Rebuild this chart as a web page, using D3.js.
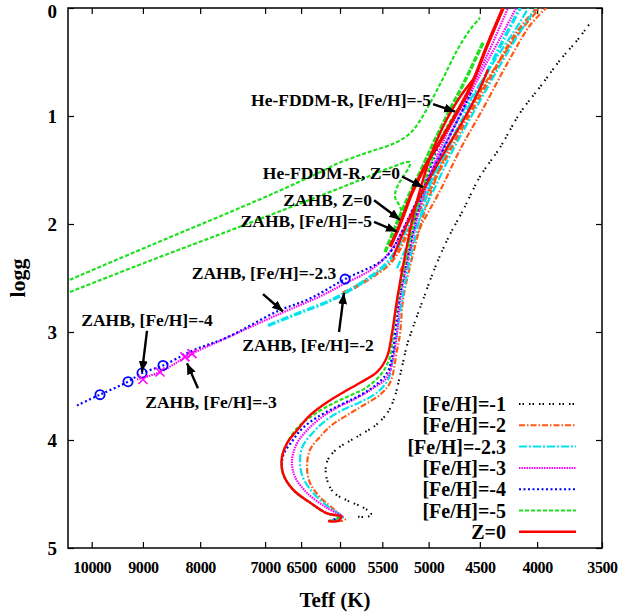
<!DOCTYPE html>
<html>
<head>
<meta charset="utf-8">
<script src="https://cdn.jsdelivr.net/npm/d3@7"></script>
<style>
  body { margin: 0; background: #fff; }
  text { font-family: "Liberation Serif", "Times New Roman", serif; font-weight: bold; fill: #000; }
</style>
</head>
<body>
<svg id="chart" width="634" height="616"></svg>
<script>
// ---- axis ticks ----
const teffTicks = [10000, 9000, 8000, 7000, 6500, 6000, 5500, 5000, 4500, 4000, 3500];
const loggTicks = [0, 1, 2, 3, 4, 5];

// ---- series: [Teff (K), logg] ----
// [Fe/H]=-1
const fehM1Track = [[5781,4.71],[5663,4.71],[5628,4.68],[5733,4.62],[5913,4.56],[6087,4.48],[6174,4.33],[6162,4.20],[6049,4.09],[5793,3.97],[5572,3.86],[5435,3.74],[5358,3.59],[5313,3.44],[5270,3.28],[5227,3.12],[5173,2.98],[5120,2.85],[5057,2.70],[4955,2.45],[4814,2.15],[4657,1.87],[4498,1.56],[4316,1.29],[4142,0.97],[3975,0.73],[3814,0.48],[3684,0.30],[3587,0.14]];

// [Fe/H]=-2
const fehM2Rgb = [[6037,4.75],[5938,4.74],[6062,4.65],[6251,4.53],[6381,4.40],[6421,4.25],[6381,4.09],[6251,3.97],[6099,3.86],[5913,3.77],[5722,3.68],[5525,3.58],[5413,3.47],[5336,3.17],[5302,3.01],[5270,2.70],[5152,2.24],[5005,1.78],[4764,1.22],[4544,0.85],[4316,0.48],[4100,0.16],[3975,0]];
const fehM2Hb1 = [[5963,2.64],[5805,2.58],[5617,2.49],[5435,2.38],[5325,2.26],[5216,2.07],[5068,1.82],[4863,1.45],[4638,1.06],[4406,0.65],[4185,0.25],[4000,0]];
const fehM2Hb2 = [[5302,2.44],[5194,2.24],[5057,1.98],[4883,1.69],[4686,1.31],[4470,0.93],[4246,0.50],[4058,0.16],[3926,0]];

// [Fe/H]=-2.3
const fehM23Rgb = [[6087,4.75],[5963,4.72],[6124,4.63],[6342,4.49],[6480,4.34],[6514,4.21],[6480,4.06],[6342,3.93],[6162,3.81],[5963,3.72],[5757,3.65],[5559,3.56],[5435,3.44],[5380,3.23],[5336,3.01],[5281,2.70],[5173,2.24],[5036,1.78],[4814,1.22],[4591,0.85],[4361,0.48],[4142,0.13],[4075,0]];
const fehM23Hb1 = [[6958,2.94],[6514,2.82],[6124,2.71],[5877,2.61],[5640,2.49],[5469,2.38],[5358,2.26],[5248,2.07],[5088,1.80],[4883,1.43],[4667,1.04],[4470,0.67],[4290,0.30],[4142,0]];
const fehM23Hb2 = [[5336,2.41],[5237,2.22],[5109,1.98],[4955,1.70],[4764,1.33],[4544,0.94],[4316,0.53],[4142,0.22],[4008,0]];

// [Fe/H]=-3
const fehM3Rgb = [[6124,4.75],[5975,4.71],[6162,4.63],[6421,4.49],[6582,4.34],[6623,4.19],[6555,4.03],[6421,3.91],[6251,3.80],[6037,3.70],[5793,3.61],[5605,3.52],[5447,3.42],[5391,3.29],[5336,3.01],[5302,2.70],[5194,2.24],[5068,1.78],[4843,1.22],[4638,0.85],[4434,0.44],[4246,0]];
const fehM3Hb = [[9111,3.44],[8689,3.37],[8170,3.21],[7524,3.04],[6788,2.83],[6251,2.67],[5938,2.55],[5640,2.43],[5469,2.31],[5358,2.19],[5248,2.01],[5088,1.73],[4883,1.36],[4686,0.99],[4498,0.62],[4316,0.28],[4176,0]];
const fehM3Marks = [[8999,3.44],[8689,3.37],[8254,3.23],[8136,3.20]];

// [Fe/H]=-4
const fehM4Rgb = [[6137,4.75],[5999,4.71],[6162,4.68],[6381,4.58],[6609,4.46],[6747,4.31],[6747,4.15],[6609,4.00],[6480,3.89],[6290,3.79],[6037,3.69],[5793,3.60],[5605,3.51],[5447,3.38],[5391,3.23],[5358,3.01],[5313,2.70],[5205,2.24],[5088,1.78],[4873,1.22],[4735,0.99]];
const fehM4Hb = [[10308,3.68],[9831,3.58],[9280,3.46],[9017,3.38],[8636,3.31],[8119,3.17],[7570,3.05],[6830,2.81],[6381,2.69],[5938,2.51],[5525,2.35],[5391,2.24],[5281,2.07],[5141,1.82],[4985,1.55],[4784,1.18],[4572,0.76]];
const fehM4Marks = [[9831,3.58],[9280,3.46],[9017,3.38],[8636,3.31],[5938,2.51]];

// [Fe/H]=-5
const fehM5Rgb = [[6124,4.75],[5999,4.71],[6162,4.68],[6381,4.58],[6609,4.46],[6747,4.31],[6761,4.16],[6691,4.03],[6555,3.89],[6381,3.79],[6162,3.69],[5913,3.60],[5675,3.51],[5503,3.38],[5413,3.23],[5380,3.01],[5325,2.70],[5216,2.24],[5099,1.78],[4883,1.22],[4686,0.90],[4572,0.71]];
const fehM5Hb = [[5469,2.26],[5391,2.10],[5302,1.92],[5194,1.71],[5088,1.52],[4934,1.22],[4784,0.94],[4638,0.67],[4470,0.32]];
const fehM5FddmUpper = [[10700,2.56],[8870,2.20],[7524,1.89],[6788,1.69],[6251,1.52],[5999,1.43],[5640,1.33],[5358,1.25],[5194,1.16],[5088,1.04],[4985,0.88],[4853,0.65],[4715,0.39],[4591,0.20],[4498,0.09]];
const fehM5FddmLower = [[10700,2.67],[8870,2.34],[7524,2.06],[6514,1.81],[5877,1.63],[5413,1.48],[5194,1.43],[5336,1.66],[5358,1.75],[5302,1.84],[5270,1.94]];

// Z=0
const zeroRgb = [[6149,4.75],[6024,4.75],[5987,4.71],[6162,4.68],[6381,4.58],[6609,4.46],[6747,4.31],[6761,4.16],[6691,4.03],[6555,3.91],[6381,3.77],[6162,3.65],[5963,3.56],[5757,3.47],[5559,3.37],[5447,3.23],[5391,3.01],[5336,2.70],[5237,2.24],[5120,1.78],[4914,1.22],[4706,0.85],[4544,0.64]];
const zeroHb1 = [[5413,2.21],[5336,2.07],[5270,1.93],[5173,1.71],[5026,1.45],[4873,1.22],[4725,0.98],[4582,0.72],[4434,0.35],[4290,0]];
const zeroHb2 = [[5380,2.31],[5302,2.15],[5216,1.98],[5109,1.78],[4985,1.57],[4824,1.31],[4667,1.06],[4516,0.78],[4424,0.57]];

// ---- legend / styling per series ----
const seriesNames = ["[Fe/H]=-1", "[Fe/H]=-2", "[Fe/H]=-2.3", "[Fe/H]=-3", "[Fe/H]=-4", "[Fe/H]=-5", "Z=0"];
const seriesColors = ["#000000", "#ff5a14", "#00e4ee", "#ff00ff", "#0000ff", "#1ee11e", "#ff0000"];
const seriesDash = ["1.5,2,1.5,5", "6,2,1.5,2", "8,2,2,2", "1.5,1", "2,2.5", "4,2", null];
const seriesTracks = [
  [fehM1Track],
  [fehM2Rgb, fehM2Hb1, fehM2Hb2],
  [fehM23Rgb, fehM23Hb1, fehM23Hb2],
  [fehM3Rgb, fehM3Hb],
  [fehM4Rgb, fehM4Hb],
  [fehM5Rgb, fehM5Hb, fehM5FddmUpper, fehM5FddmLower],
  [zeroRgb, zeroHb1, zeroHb2]
];
// tracks drawn as dense, heavy bands
const heavyTracks = new Set([fehM5Hb, fehM23Hb1, fehM2Hb1, zeroHb1]);

// ---- annotations ----
const noteLabels = ["He-FDDM-R, [Fe/H]=-5", "He-FDDM-R, Z=0", "ZAHB, Z=0", "ZAHB, [Fe/H]=-5",
                    "ZAHB, [Fe/H]=-2.3", "ZAHB, [Fe/H]=-4", "ZAHB, [Fe/H]=-2", "ZAHB, [Fe/H]=-3"];
const noteAnchor = ["end", "end", "end", "end", "middle", "middle", "middle", "middle"];
const noteAt = [[4975,0.85],[5302,1.53],[5617,1.78],[5617,1.97],[7015,2.45],[8925,2.89],[6407,3.12],[7824,3.65]];
const arrowFrom = [[4955,0.89],[5281,1.56],[5594,1.78],[5594,1.98],[7030,2.65],[8925,2.99],[6012,3.00],[8037,3.52]];
const arrowTo = [[4735,0.96],[5057,1.66],[5302,1.96],[5336,2.07],[6747,2.81],[9017,3.37],[5951,2.64],[8220,3.29]];

// ---- layout ----
const svg = d3.select("#chart");
const plot = { left: 68, right: 602, top: 8, bottom: 548 };

const x = d3.scaleLog().domain([10500, 3500]).range([plot.left, plot.right]);
const y = d3.scaleLinear().domain([0, 5]).range([plot.top, plot.bottom]);

svg.append("rect").attr("width", 634).attr("height", 616).attr("fill", "#fff");

svg.append("defs").append("clipPath").attr("id", "plotClip")
  .append("rect")
  .attr("x", plot.left).attr("y", plot.top)
  .attr("width", plot.right - plot.left).attr("height", plot.bottom - plot.top);

svg.select("defs").append("marker")
  .attr("id", "head")
  .attr("markerUnits", "userSpaceOnUse")
  .attr("markerWidth", 12).attr("markerHeight", 10)
  .attr("refX", 11).attr("refY", 4.5)
  .attr("orient", "auto")
  .append("path").attr("d", "M0,0 L11,4.5 L0,9 Z").attr("fill", "#000");

// axes with inward ticks on all four sides
const axisBottom = d3.axisBottom(x).tickValues(teffTicks).tickFormat(d3.format("d"))
  .tickSizeInner(-6).tickSizeOuter(0).tickPadding(14);
const gB = svg.append("g").attr("transform", `translate(0,${plot.bottom})`).call(axisBottom);
gB.selectAll("text").style("font-size", "16px").style("letter-spacing", "-0.4px");

const axisTop = d3.axisTop(x).tickValues(teffTicks).tickFormat("")
  .tickSizeInner(-6).tickSizeOuter(0);
svg.append("g").attr("transform", `translate(0,${plot.top})`).call(axisTop);

const axisLeft = d3.axisLeft(y).tickValues(loggTicks).tickFormat(d3.format("d"))
  .tickSizeInner(-6).tickSizeOuter(0).tickPadding(11);
const gL = svg.append("g").attr("transform", `translate(${plot.left},0)`).call(axisLeft);
// the top label sits against the upper edge, so it is nudged down to stay whole
gL.selectAll("text").style("font-size", "19px")
  .attr("dy", d => (d === 0 ? "0.52em" : "0.36em"));

const axisRight = d3.axisRight(y).tickValues(loggTicks).tickFormat("")
  .tickSizeInner(-6).tickSizeOuter(0);
svg.append("g").attr("transform", `translate(${plot.right},0)`).call(axisRight);

svg.selectAll(".domain").remove();
svg.selectAll(".tick line").attr("stroke", "#000").attr("stroke-width", 1.2);

svg.append("rect")
  .attr("x", plot.left).attr("y", plot.top)
  .attr("width", plot.right - plot.left).attr("height", plot.bottom - plot.top)
  .attr("fill", "none").attr("stroke", "#000").attr("stroke-width", 1.5);

// axis titles
svg.append("text").attr("x", 335).attr("y", 600)
  .attr("text-anchor", "middle").attr("dominant-baseline", "central")
  .style("font-size", "21px").text("Teff (K)");
svg.append("text").attr("transform", "translate(17,278) rotate(-90)")
  .attr("text-anchor", "middle").attr("dominant-baseline", "central")
  .style("font-size", "22px").text("logg");

// tracks
const line = d3.line()
  .x(d => x(d[0])).y(d => y(d[1]))
  .curve(d3.curveCatmullRom.alpha(0.5));

const gTracks = svg.append("g").attr("clip-path", "url(#plotClip)");
seriesTracks.forEach((tracks, i) => {
  tracks.forEach(t => {
    const heavy = heavyTracks.has(t);
    gTracks.append("path")
      .datum(t)
      .attr("d", line)
      .attr("fill", "none")
      .attr("stroke", seriesColors[i])
      .attr("stroke-width", heavy ? 3.4 : (i === 6 ? 2.4 : (i === 0 ? 2 : 2.2)))
      .attr("stroke-dasharray", heavy && i === 5 ? "6,1.5" : seriesDash[i])
      .attr("stroke-linecap", "butt");
  });
});

// ZAHB markers
gTracks.selectAll("circle.m4").data(fehM4Marks).enter().append("circle")
  .attr("cx", d => x(d[0])).attr("cy", d => y(d[1])).attr("r", 4.6)
  .attr("fill", "none").attr("stroke", seriesColors[4]).attr("stroke-width", 1.8);

const crossHalf = 4.5;
gTracks.selectAll("path.m3").data(fehM3Marks).enter().append("path")
  .attr("d", d => {
    const cx = x(d[0]), cy = y(d[1]);
    return `M${cx - crossHalf},${cy - crossHalf}L${cx + crossHalf},${cy + crossHalf}M${cx - crossHalf},${cy + crossHalf}L${cx + crossHalf},${cy - crossHalf}`;
  })
  .attr("stroke", seriesColors[3]).attr("stroke-width", 1.6).attr("fill", "none");

// annotations
noteLabels.forEach((label, i) => {
  svg.append("line")
    .attr("x1", x(arrowFrom[i][0])).attr("y1", y(arrowFrom[i][1]))
    .attr("x2", x(arrowTo[i][0])).attr("y2", y(arrowTo[i][1]))
    .attr("stroke", "#000").attr("stroke-width", 2.4)
    .attr("marker-end", "url(#head)");
  svg.append("text")
    .attr("x", x(noteAt[i][0])).attr("y", y(noteAt[i][1]))
    .attr("text-anchor", noteAnchor[i]).attr("dominant-baseline", "central")
    .style("font-size", "17.5px")
    .text(label);
});

// legend
const legend = svg.append("g");
seriesNames.forEach((name, i) => {
  const ly = 404 + i * 21.3;
  legend.append("text").attr("x", 506).attr("y", ly)
    .attr("text-anchor", "end").attr("dominant-baseline", "central")
    .style("font-size", "20px").text(name);
  legend.append("line").attr("x1", 519).attr("x2", 576).attr("y1", ly).attr("y2", ly)
    .attr("stroke", seriesColors[i]).attr("stroke-width", i === 6 ? 2.4 : 2)
    .attr("stroke-dasharray", seriesDash[i]);
});
</script>
</body>
</html>
